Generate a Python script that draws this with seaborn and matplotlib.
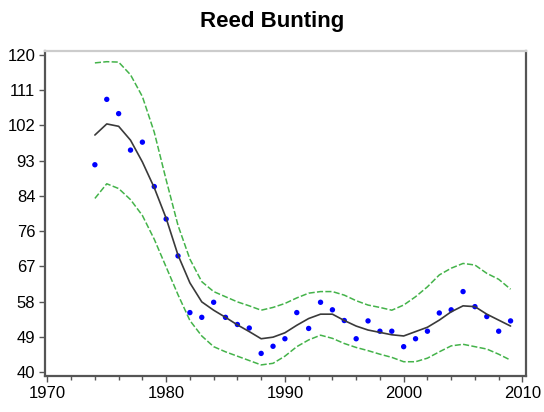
import numpy as np
import pandas as pd
import matplotlib
matplotlib.use("Agg")
import matplotlib.pyplot as plt
from matplotlib.ticker import MultipleLocator
import seaborn as sns

years = list(range(1974, 2010))
index_vals = [92.3, 108.8, 105.2, 96.0, 98.0, 86.8, 78.6, 69.3,
              55.0, 53.8, 57.6, 53.8, 52.0, 51.1, 44.7, 46.5, 48.4, 55.0,
              51.0, 57.6, 55.7, 53.0, 48.4, 52.9, 50.3, 50.3, 46.4, 48.4,
              50.3, 54.9, 55.7, 60.3, 56.5, 54.0, 50.3, 52.9]
trend = [99.8, 102.6, 102.0, 98.5, 93.0, 86.5, 78.8, 69.5,
         62.5, 57.7, 55.6, 53.8, 51.9, 50.2, 48.4, 48.8, 49.9, 51.8,
         53.5, 54.6, 54.6, 53.0, 51.6, 50.6, 50.0, 49.4, 49.1, 50.2,
         51.3, 53.1, 55.2, 56.7, 56.5, 54.6, 53.1, 51.6]
upper = [118.0, 118.3, 118.2, 115.0, 109.5, 100.5, 88.5, 77.0,
         68.5, 62.8, 60.3, 59.0, 57.7, 56.7, 55.6, 56.3, 57.3, 58.7,
         59.9, 60.3, 60.3, 59.4, 58.0, 56.9, 56.3, 55.6, 56.9, 59.0,
         61.5, 64.5, 66.2, 67.4, 67.0, 64.9, 63.4, 60.9]
lower = [83.8, 87.5, 86.3, 83.5, 79.5, 73.5, 66.5, 59.5,
         53.0, 49.1, 46.4, 45.1, 44.0, 42.9, 41.8, 42.2, 44.0, 46.4,
         48.1, 49.3, 48.5, 47.2, 46.2, 45.4, 44.5, 43.7, 42.6, 42.6,
         43.5, 45.1, 46.6, 47.0, 46.4, 45.8, 44.5, 43.0]
ytick_labels = ["40", "49", "58", "67", "76", "84", "93", "102", "111", "120"]
xtick_major = [1970, 1980, 1990, 2000, 2010]
title = "Reed Bunting"

df = pd.DataFrame({"year": years, "index": index_vals, "trend": trend,
                   "upper": upper, "lower": lower})

sns.set_style("ticks")
plt.rcParams["font.family"] = ["Liberation Sans", "DejaVu Sans"]
plt.rcParams["text.color"] = "black"
plt.rcParams["xtick.labelcolor"] = "black"
plt.rcParams["ytick.labelcolor"] = "black"

fig = plt.figure(figsize=(5.44, 4.12), dpi=100)
ax = fig.add_axes([45/544, 1-376/412, (526-45)/544, (376-51)/412])

green = "#44b34a"
sns.lineplot(data=df, x="year", y="upper", ax=ax, color=green, lw=1.1,
             linestyle=(0, (4, 1.5)))
sns.lineplot(data=df, x="year", y="lower", ax=ax, color=green, lw=1.1,
             linestyle=(0, (4, 1.5)))
sns.lineplot(data=df, x="year", y="trend", ax=ax, color="#3a3a3a", lw=1.2)
sns.scatterplot(data=df, x="year", y="index", ax=ax, color="#0000ff",
                s=15, marker="o", edgecolor="none")

ax.set_xlim(1969.8, 2010.3)
ax.set_ylim(39.0, 121.0)
ax.set_yticks(np.linspace(40, 120, len(ytick_labels)))
ax.set_yticklabels(ytick_labels)
ax.set_xticks(xtick_major)
ax.set_xticklabels([str(v) for v in xtick_major])
ax.xaxis.set_minor_locator(MultipleLocator(2))
ax.set_xlabel("")
ax.set_ylabel("")
ax.tick_params(axis="both", which="major", length=4, width=1,
               color="#555555", labelsize=12, pad=3, labelcolor="black")
ax.tick_params(axis="x", which="minor", length=3, width=1, color="#555555")
for side in ["left", "bottom", "right"]:
    ax.spines[side].set_color("#555555")
    ax.spines[side].set_linewidth(1.6)
    ax.spines[side].set_visible(True)
ax.spines["top"].set_visible(True)
ax.spines["top"].set_color("#cccccc")
ax.spines["top"].set_linewidth(1.6)

fig.text(0.5, 1-22/412, title, ha="center", va="center",
         fontsize=16, fontweight="bold", color="black")

fig.savefig("out.png", dpi=100)
